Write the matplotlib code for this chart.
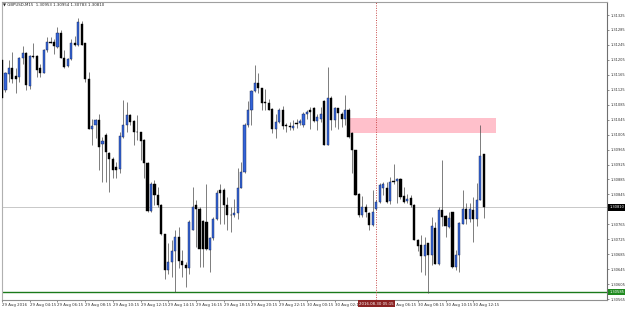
import matplotlib
matplotlib.use("Agg")
import matplotlib.pyplot as plt
import matplotlib.transforms as mtransforms
from matplotlib.patches import Rectangle
import numpy as np

# Data: GBPUSD M15 candles, 29-30 Aug 2016
SYMBOL = "GBPUSD,M15"

opens = [
    1.31204, 1.31124, 1.31166, 1.31182, 1.31162, 1.31160, 1.31209, 1.31224, 1.31135, 1.31215,
    1.31215, 1.31182, 1.31171, 1.31231, 1.31253, 1.31253, 1.31240, 1.31278, 1.31209, 1.31188,
    1.31206, 1.31249, 1.31244, 1.31302, 1.31249, 1.31155, 1.31021, 1.31030, 1.31044, 1.30979,
    1.31003, 1.30956, 1.30939, 1.30918, 1.30914, 1.30999, 1.31030, 1.31057, 1.31041, 1.31012,
    1.31011, 1.30990, 1.30929, 1.30801, 1.30872, 1.30843, 1.30816, 1.30740, 1.30642, 1.30665,
    1.30694, 1.30731, 1.30667, 1.30657, 1.30649, 1.30751, 1.30816, 1.30805, 1.30773, 1.30772,
    1.30696, 1.30729, 1.30780, 1.30858, 1.30858, 1.30816, 1.30791, 1.30789, 1.30794, 1.30863,
    1.30904, 1.31030, 1.31070, 1.31121, 1.31144, 1.31131, 1.31093, 1.31090, 1.31073, 1.31021,
    1.31039, 1.31070, 1.31030, 1.31028, 1.31024, 1.31037, 1.31037, 1.31030, 1.31060, 1.31072,
    1.31077, 1.31042, 1.31048, 1.31095, 1.30977, 1.31104, 1.31044, 1.31077, 1.31061, 1.31048,
    1.31072, 1.31008, 1.30963, 1.30846, 1.30789, 1.30812, 1.30796, 1.30763, 1.30807, 1.30825,
    1.30861, 1.30863, 1.30828, 1.30881, 1.30881, 1.30885, 1.30840, 1.30828, 1.30836, 1.30816,
    1.30724, 1.30709, 1.30680, 1.30714, 1.30682, 1.30754, 1.30660, 1.30803, 1.30787, 1.30758,
    1.30797, 1.30651, 1.30682, 1.30767, 1.30805, 1.30780, 1.30803, 1.30780, 1.30831, 1.30953,
]
highs = [
    1.31213, 1.31173, 1.31204, 1.31226, 1.31182, 1.31213, 1.31242, 1.31226, 1.31218, 1.31249,
    1.31218, 1.31195, 1.31233, 1.31265, 1.31265, 1.31262, 1.31292, 1.31284, 1.31231, 1.31209,
    1.31260, 1.31268, 1.31316, 1.31309, 1.31251, 1.31173, 1.31048, 1.31048, 1.31060, 1.30999,
    1.31008, 1.30959, 1.30946, 1.30932, 1.31012, 1.31097, 1.31093, 1.31061, 1.31044, 1.31057,
    1.31012, 1.30992, 1.30932, 1.30879, 1.30883, 1.30865, 1.30819, 1.30740, 1.30714, 1.30723,
    1.30749, 1.30758, 1.30696, 1.30665, 1.30776, 1.30865, 1.30830, 1.30812, 1.30776, 1.30874,
    1.30731, 1.30785, 1.30856, 1.30874, 1.30861, 1.30838, 1.30812, 1.30834, 1.30917, 1.30932,
    1.31035, 1.31095, 1.31124, 1.31191, 1.31169, 1.31131, 1.31128, 1.31099, 1.31075, 1.31061,
    1.31075, 1.31081, 1.31037, 1.31039, 1.31044, 1.31048, 1.31048, 1.31066, 1.31070, 1.31079,
    1.31079, 1.31061, 1.31078, 1.31097, 1.31185, 1.31108, 1.31079, 1.31077, 1.31066, 1.31111,
    1.31075, 1.31012, 1.30963, 1.30849, 1.30840, 1.30819, 1.30798, 1.30856, 1.30830, 1.30876,
    1.30879, 1.30879, 1.30892, 1.30926, 1.30888, 1.30888, 1.30865, 1.30846, 1.30843, 1.30819,
    1.30727, 1.30736, 1.30731, 1.30714, 1.30785, 1.30772, 1.30812, 1.30937, 1.30789, 1.30798,
    1.30798, 1.30696, 1.30772, 1.30856, 1.30821, 1.30822, 1.30838, 1.30876, 1.31032, 1.30954,
]
lows = [
    1.31097, 1.31119, 1.31146, 1.31142, 1.31115, 1.31146, 1.31195, 1.31124, 1.31128, 1.31211,
    1.31160, 1.31160, 1.31169, 1.31226, 1.31249, 1.31222, 1.31238, 1.31209, 1.31182, 1.31185,
    1.31204, 1.31242, 1.31242, 1.31244, 1.31146, 1.31019, 1.30977, 1.30995, 1.30910, 1.30879,
    1.30879, 1.30852, 1.30888, 1.30888, 1.30901, 1.30995, 1.31012, 1.31030, 1.30977, 1.30990,
    1.30937, 1.30888, 1.30798, 1.30798, 1.30816, 1.30812, 1.30736, 1.30620, 1.30633, 1.30624,
    1.30584, 1.30647, 1.30624, 1.30598, 1.30633, 1.30749, 1.30705, 1.30651, 1.30651, 1.30696,
    1.30638, 1.30723, 1.30776, 1.30767, 1.30767, 1.30749, 1.30745, 1.30785, 1.30780, 1.30861,
    1.30901, 1.31026, 1.31030, 1.31119, 1.31115, 1.31070, 1.31070, 1.31070, 1.31008, 1.30995,
    1.31035, 1.31021, 1.31012, 1.31017, 1.31017, 1.31024, 1.31030, 1.31026, 1.31048, 1.31021,
    1.31039, 1.31017, 1.31039, 1.30977, 1.30977, 1.31017, 1.31026, 1.31021, 1.31026, 1.31030,
    1.30995, 1.30901, 1.30843, 1.30785, 1.30785, 1.30785, 1.30749, 1.30760, 1.30803, 1.30821,
    1.30843, 1.30821, 1.30819, 1.30874, 1.30821, 1.30834, 1.30821, 1.30821, 1.30812, 1.30723,
    1.30694, 1.30638, 1.30629, 1.30580, 1.30656, 1.30658, 1.30656, 1.30760, 1.30731, 1.30754,
    1.30647, 1.30642, 1.30638, 1.30767, 1.30767, 1.30772, 1.30718, 1.30760, 1.30830, 1.30783,
]
closes = [
    1.31102, 1.31169, 1.31182, 1.31155, 1.31153, 1.31210, 1.31224, 1.31137, 1.31215, 1.31213,
    1.31179, 1.31171, 1.31231, 1.31253, 1.31251, 1.31242, 1.31278, 1.31211, 1.31186, 1.31206,
    1.31249, 1.31244, 1.31307, 1.31246, 1.31155, 1.31021, 1.31028, 1.31044, 1.30972, 1.30988,
    1.30959, 1.30941, 1.30910, 1.30910, 1.31001, 1.31030, 1.31057, 1.31039, 1.31012, 1.31011,
    1.30988, 1.30928, 1.30801, 1.30872, 1.30843, 1.30818, 1.30739, 1.30642, 1.30665, 1.30694,
    1.30731, 1.30667, 1.30656, 1.30648, 1.30772, 1.30812, 1.30807, 1.30700, 1.30700, 1.30700,
    1.30729, 1.30780, 1.30850, 1.30850, 1.30816, 1.30789, 1.30789, 1.30794, 1.30863, 1.30904,
    1.31030, 1.31070, 1.31121, 1.31144, 1.31131, 1.31090, 1.31090, 1.31072, 1.31021, 1.31039,
    1.31070, 1.31028, 1.31028, 1.31026, 1.31028, 1.31033, 1.31041, 1.31061, 1.31066, 1.31066,
    1.31042, 1.31051, 1.31061, 1.30977, 1.31104, 1.31044, 1.31077, 1.31063, 1.31048, 1.31072,
    1.30999, 1.30963, 1.30843, 1.30789, 1.30812, 1.30798, 1.30763, 1.30798, 1.30825, 1.30870,
    1.30872, 1.30825, 1.30879, 1.30879, 1.30885, 1.30838, 1.30825, 1.30834, 1.30816, 1.30724,
    1.30706, 1.30680, 1.30709, 1.30682, 1.30760, 1.30660, 1.30803, 1.30785, 1.30760, 1.30783,
    1.30651, 1.30682, 1.30769, 1.30805, 1.30780, 1.30805, 1.30780, 1.30831, 1.30948, 1.30810,
]

# time axis: a label every 8 bars (2 hours)
time_labels = [
    "29 Aug 2016", "29 Aug 04:15", "29 Aug 06:15", "29 Aug 08:15", "29 Aug 10:15",
    "29 Aug 12:15", "29 Aug 14:15", "29 Aug 16:15", "29 Aug 18:15", "29 Aug 20:15",
    "29 Aug 22:15", "30 Aug 00:15", "30 Aug 02:15", "30 Aug 04:15", "30 Aug 06:15",
    "30 Aug 08:15", "30 Aug 10:15", "30 Aug 12:15",
]
price_ticks = [
    1.30565, 1.30605, 1.30645, 1.30685, 1.30725, 1.30765, 1.30805, 1.30845, 1.30885, 1.30925,
    1.30965, 1.31005, 1.31045, 1.31085, 1.31125, 1.31165, 1.31205, 1.31245, 1.31285, 1.31325,
]

# chart objects
zone_low, zone_high = 1.31009, 1.31049
zone_start, zone_end = 99.7, 142.6
support_level = 1.30585
vline_bar = 108
vline_label = "2016.08.30 05:15"

BULL = "#3464d8"
BEAR = "#000000"
WICK = "#4a4a4a"

fig = plt.figure(figsize=(6.25, 3.1), dpi=100)
ax = fig.add_axes([2 / 625, 10 / 310, 605 / 625, 298 / 310])
ax.set_facecolor("white")

o = np.array(opens)
h = np.array(highs)
l = np.array(lows)
c = np.array(closes)
idx = np.arange(len(o))

# zone behind candles
ax.add_patch(Rectangle((zone_start, zone_low), zone_end - zone_start, zone_high - zone_low,
                       facecolor="#ffc0cb", edgecolor="none", zorder=1))

ax.axhline(c[-1], color="#c8c8c8", lw=0.7, zorder=1)
ax.axhline(support_level, color="#1a7a1a", lw=1.0, zorder=1)
ax.axvline(vline_bar, color="#c84a4a", lw=0.7, ls=(0, (1, 1.5)), zorder=1)

# candles
ax.vlines(idx, l, h, color=WICK, lw=0.5, zorder=2)
up = c >= o
body_h = np.maximum(np.abs(c - o), 0.000012)
ax.bar(idx, body_h, bottom=np.minimum(o, c), width=0.62,
       color=np.where(up, BULL, BEAR), edgecolor=np.where(up, "#15244f", BEAR),
       linewidth=0.3, zorder=3)

ax.set_xlim(0.29, 174.6)
ax.set_ylim(1.305625, 1.313598)

# right price axis; the tick hidden under the bid label box is left blank, as in MT4
ax.yaxis.tick_right()
ax.set_yticks(price_ticks)
ax.set_yticklabels(["" if abs(p - c[-1]) < 0.00018 else f"{p:.5f}" for p in price_ticks])
ax.tick_params(axis="y", length=1.5, width=0.4, pad=1, labelsize=2.6, colors="#333333")

# bottom time axis; the label just left of the vertical line sits under its time box
tick_pos = np.arange(0, 8 * len(time_labels), 8)
ax.set_xticks(tick_pos)
ax.set_xticklabels(["" if vline_bar - 8 < t < vline_bar else s for t, s in zip(tick_pos, time_labels)],
                   ha="left")
ax.tick_params(axis="x", length=1.5, width=0.4, pad=1, labelsize=2.8, colors="#333333")

for side, col in [("left", "#b0b0b0"), ("top", "#a0a0a0"), ("right", "#707070"), ("bottom", "#909090")]:
    ax.spines[side].set_color(col)
    ax.spines[side].set_linewidth(0.8)

# price labels on the axis
ytr = mtransforms.blended_transform_factory(ax.transAxes, ax.transData)
ax.text(1.004, c[-1], f"{c[-1]:.5f}", transform=ytr, fontsize=2.6, color="white",
        va="center", ha="left", zorder=5, clip_on=False,
        bbox=dict(boxstyle="square,pad=0.3", fc="black", ec="none"))
ax.text(1.004, support_level, f"{support_level:.5f}", transform=ytr, fontsize=2.6, color="white",
        va="center", ha="left", zorder=5, clip_on=False,
        bbox=dict(boxstyle="square,pad=0.3", fc="#1f8a1f", ec="none"))

# time label of the vertical line
xtr = mtransforms.blended_transform_factory(ax.transData, ax.transAxes)
ax.text(vline_bar, -0.006, vline_label, transform=xtr, fontsize=2.8, color="white",
        va="top", ha="center", zorder=5, clip_on=False,
        bbox=dict(boxstyle="square,pad=0.35", fc="#8b2222", ec="none"))

# header
fig.text(3 / 625, 1 - 5 / 310,
         f"\u25bc {SYMBOL}  {o[-1]:.5f} {h[-1]:.5f} {l[-1]:.5f} {c[-1]:.5f}",
         fontsize=2.8, color="#222222", va="center", ha="left")

fig.savefig("out.png", dpi=100, facecolor="white")
